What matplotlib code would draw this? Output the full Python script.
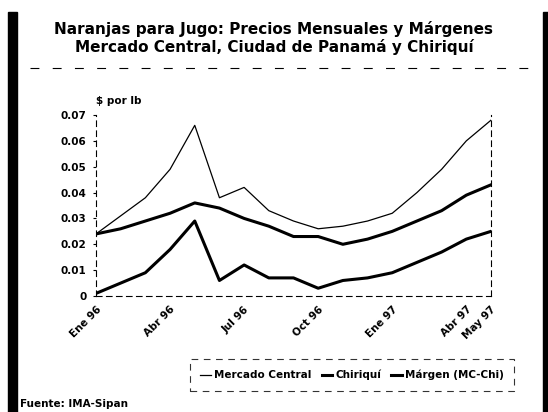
import matplotlib
matplotlib.use("Agg")
import matplotlib.pyplot as plt
from matplotlib.patches import Rectangle
from matplotlib.lines import Line2D

# monthly data, Ene 96 .. May 97 ($ per lb)
meses = ["Ene 96", "Feb 96", "Mar 96", "Abr 96", "May 96", "Jun 96", "Jul 96",
         "Ago 96", "Sep 96", "Oct 96", "Nov 96", "Dic 96", "Ene 97", "Feb 97",
         "Mar 97", "Abr 97", "May 97"]
mercado_central = [0.024, 0.031, 0.038, 0.049, 0.066, 0.038, 0.042, 0.033, 0.029,
                   0.026, 0.027, 0.029, 0.032, 0.040, 0.049, 0.060, 0.068]
chiriqui = [0.024, 0.026, 0.029, 0.032, 0.036, 0.034, 0.030, 0.027, 0.023,
            0.023, 0.020, 0.022, 0.025, 0.029, 0.033, 0.039, 0.043]
margen = [0.001, 0.005, 0.009, 0.018, 0.029, 0.006, 0.012, 0.007, 0.007,
          0.003, 0.006, 0.007, 0.009, 0.013, 0.017, 0.022, 0.025]
tick_meses = ["Ene 96", "Abr 96", "Jul 96", "Oct 96", "Ene 97", "Abr 97", "May 97"]
y_ticks = [0, 0.01, 0.02, 0.03, 0.04, 0.05, 0.06, 0.07]

plt.rcParams['font.family'] = 'DejaVu Sans'
plt.rcParams['font.weight'] = 'bold'

fig = plt.figure(figsize=(5.48, 4.12), dpi=100)
W, H = 548.0, 412.0
ax = fig.add_axes([96/W, 1-296/H, (491-96)/W, (296-115)/H])

x = list(range(len(meses)))
ax.plot(x, mercado_central, color='black', lw=0.9, label='Mercado Central')
ax.plot(x, chiriqui, color='black', lw=2.2, label='Chiriquí')
ax.plot(x, margen, color='black', lw=2.2, label='Márgen (MC-Chi)')

ax.set_xlim(0, len(meses)-1)
ax.set_ylim(0, 0.07)
ax.set_yticks(y_ticks)
ax.set_yticklabels(["0"] + ["%.2f" % v for v in y_ticks[1:]], fontsize=7.5, fontweight='bold')
ax.set_xticks([meses.index(m) for m in tick_meses])
ax.set_xticklabels(tick_meses, rotation=45, ha='right', va='top', fontsize=7.5,
                   fontweight='bold', rotation_mode='anchor')
ax.tick_params(axis='y', length=2, width=0.8, pad=5)
ax.tick_params(axis='x', length=0, pad=6)

for s in ['left', 'bottom', 'right']:
    ax.spines[s].set_linestyle((0, (5, 4)))
    ax.spines[s].set_linewidth(0.8)
ax.spines['top'].set_visible(False)

ax.text(0.0, 1.08, "$ por lb", transform=ax.transAxes, fontsize=7.5,
        fontweight='bold', ha='left', va='center')

fig.text(0.5, 1-29/H, "Naranjas para Jugo: Precios Mensuales y Márgenes",
         ha='center', va='center', fontsize=11, fontweight='bold')
fig.text(0.5, 1-47/H, "Mercado Central, Ciudad de Panamá y Chiriquí",
         ha='center', va='center', fontsize=11, fontweight='bold')

# dashed rule under title
fig.add_artist(Line2D([30/W, 538/W], [1-68/H, 1-68/H], color='black', lw=0.8,
                      linestyle=(0, (8, 12)), transform=fig.transFigure))

# thick side bars of the scanned page
fig.add_artist(Rectangle((8/W, 0), 9/W, 1-12/H, color='black', transform=fig.transFigure))
fig.add_artist(Rectangle((543/W, 0), 6/W, 1-12/H, color='black', transform=fig.transFigure))

leg = fig.legend(loc='center', bbox_to_anchor=(352/W, 1-375/H), ncol=3,
                 fontsize=7.5, handlelength=1.0, handletextpad=0.3,
                 columnspacing=1.0, fancybox=False, edgecolor='black',
                 borderpad=1.0)
leg.get_frame().set_linestyle((0, (6, 5)))
leg.get_frame().set_linewidth(0.8)

fig.text(20/W, 1-404/H, "Fuente: IMA-Sipan", ha='left', va='center',
         fontsize=7.5, fontweight='bold')

fig.savefig("out.png", dpi=100)
